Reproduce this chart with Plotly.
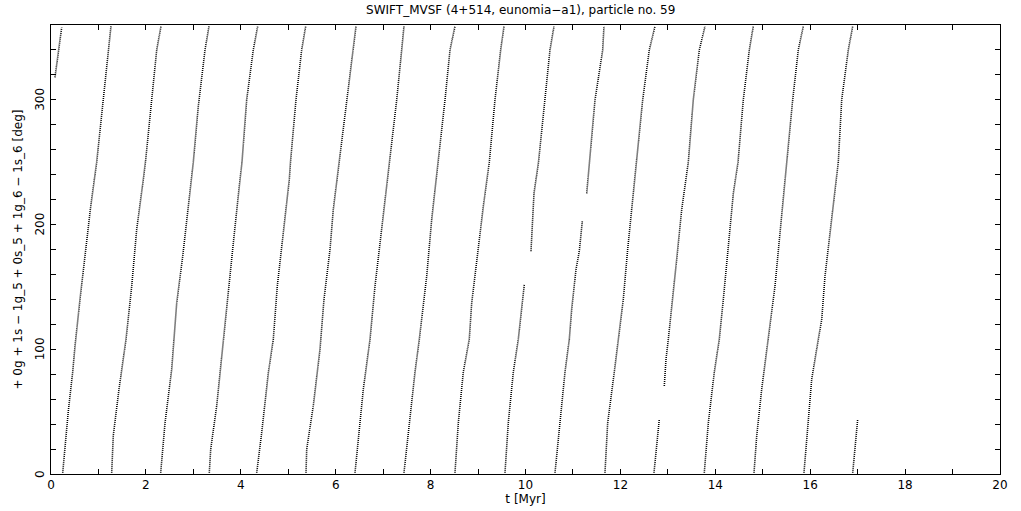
import plotly.graph_objects as go

# Resonant angle samples, one list per circulation (None = gap in data)
stripe_t = [
    [0.084, 0.148, 0.225],
    [0.247, 0.365, 0.457, 0.506, 0.611, 0.717, 0.837, 0.963, 1.102, 1.208, 1.264],
    [1.279, 1.313, 1.433, 1.581, 1.701, 1.806, 1.945, 1.996, 2.122, 2.228, 2.318],
    [2.312, 2.403, 2.544, 2.592, 2.649, 2.776, 2.894, 2.999, 3.104, 3.246, 3.330],
    [3.336, 3.366, 3.492, 3.631, 3.724, 3.842, 3.968, 4.025, 4.124, 4.263, 4.356],
    [4.335, 4.440, 4.580, 4.685, 4.769, 4.910, 5.022, 5.047, 5.163, 5.283, 5.368],
    [5.374, 5.389, 5.528, 5.669, 5.753, 5.880, 5.949, 6.076, 6.232, 6.358, 6.428],
    [6.407, 6.476, 6.582, 6.723, 6.828, 6.934, 7.060, 7.144, 7.286, 7.391, 7.439],
    [7.439, 7.551, 7.671, 7.762, 7.918, 8.023, 8.129, 8.162, 8.304, 8.409, 8.514],
    [8.514, 8.584, 8.689, 8.815, 8.866, 8.971, 9.111, 9.237, 9.357, 9.477, 9.547],
    [9.568, 9.637, 9.743, 9.848, 9.975, None, 10.116, 10.179, 10.274, 10.411, 10.516, 10.601],
    [10.622, 10.727, 10.832, 10.923, 10.973, 11.064, 11.134, 11.197, None, 11.290, 11.345, 11.465, 11.627, 11.654],
    [11.675, 11.732, 11.871, 11.955, 12.061, 12.153, 12.238, 12.328, 12.470, 12.609, 12.729],
    [12.708, 12.820, None, 12.925, 12.961, 13.010, 13.102, 13.186, 13.292, 13.431, 13.536, 13.663, 13.783],
    [13.768, 13.853, 13.979, 14.084, 14.169, 14.274, 14.380, 14.479, 14.590, 14.717, 14.801],
    [14.816, 14.873, 14.978, 15.117, 15.258, 15.343, 15.448, 15.511, 15.631, 15.749, 15.855],
    [15.869, 15.939, 16.032, 16.171, 16.243, 16.312, 16.418, 16.523, 16.592, 16.664, 16.803, 16.896],
    [16.896, 16.959, 17.001],
]
stripe_deg = [
    [318, 335, 358],
    [1, 50.6, 81.6, 102.6, 140, 174.6, 214.6, 250, 300, 340, 359],
    [1, 31, 68, 108, 150.6, 196, 236, 252, 300, 340, 359],
    [1, 41, 84, 108, 137, 174.6, 212, 250, 294.7, 340, 359],
    [1, 20, 54.6, 108, 140, 185, 230.6, 250, 300, 340, 359],
    [1, 33, 81, 108, 150.6, 196, 236, 250, 300, 340, 359],
    [1, 20, 54.6, 100, 140, 180, 212, 252, 300, 340, 359],
    [1, 28, 68, 108, 150.6, 185, 225, 252, 300, 340, 359],
    [1, 41, 81.6, 108, 158.6, 204, 238.6, 250, 300, 340, 359],
    [1, 41, 81.6, 108, 137, 172, 214.6, 250, 300, 340, 359],
    [1, 41, 81.6, 108, 152, None, 178.6, 225, 250, 300, 340, 359],
    [1, 41, 81.6, 108, 132, 164, 178.6, 202.6, None, 225, 250, 300, 340, 359],
    [1, 41, 81.6, 108, 140, 180, 212, 250, 300, 340, 359],
    [1, 44, None, 70.6, 92, 108, 140, 172, 212, 250, 300, 340, 359],
    [1, 41, 81.6, 108, 140, 180, 225, 250, 300, 340, 359],
    [1, 30.7, 68, 108, 150.6, 185, 228, 250, 300, 340, 359],
    [1, 36, 76, 108, 124, 158.6, 193, 225, 250, 300, 340, 359],
    [1, 28, 44],
]

x_ticks = list(range(0, 21))
x_ticklabels = [str(v) if v % 2 == 0 else "" for v in x_ticks]
y_ticks = list(range(0, 361, 20))
y_label_vals = [0, 100, 200, 300]

title_text = "SWIFT_MVSF (4+514, eunomia\u2212a1), particle no. 59"
xlabel = "t [Myr]"
ylabel = "+ 0g + 1s \u2212 1g_5 + 0s_5 + 1g_6 \u2212 1s_6 [deg]"

xs, ys = [], []
for tt, dd in zip(stripe_t, stripe_deg):
    xs += tt + [None]
    ys += dd + [None]

FONT = "DejaVu Sans"
TXT = dict(family=FONT, size=12, color="black")
fig = go.Figure()
fig.add_trace(go.Scatter(
    x=xs, y=ys, mode="lines", connectgaps=False,
    line=dict(color="black", width=1.6, dash="1px,1px"),
    hoverinfo="skip", showlegend=False,
))

axis_common = dict(
    showgrid=False, zeroline=False, showline=True, linecolor="black", linewidth=1,
    mirror="ticks", ticks="inside", ticklen=5, tickcolor="black", tickwidth=1,
    tickfont=TXT, automargin=False,
)
fig.update_layout(
    width=1021, height=511,
    margin=dict(l=51, r=21, t=25, b=37),
    paper_bgcolor="white", plot_bgcolor="white",
    title=dict(text=title_text, x=0.51, xref="container", xanchor="center", y=0.99, yref="container",
               yanchor="top", font=TXT),
    xaxis=dict(range=[0, 20], tickmode="array", tickvals=x_ticks, ticktext=x_ticklabels,
               title=dict(text=xlabel, font=TXT, standoff=0),
               **axis_common),
    yaxis=dict(range=[0, 360], tickmode="array", tickvals=y_ticks, showticklabels=False,
               **axis_common),
)
for v in y_label_vals:
    fig.add_annotation(x=0, xref="paper", y=v, yref="y", text=str(v), textangle=-90,
                       showarrow=False, xanchor="center", yanchor="middle", xshift=-11,
                       font=TXT)
fig.add_annotation(x=0, xref="paper", y=0.5, yref="paper", text=ylabel, textangle=-90,
                   showarrow=False, xanchor="center", yanchor="middle", xshift=-34, font=TXT)
fig.write_html("out.html", post_script="document.body.style.margin='0';",
               config={"displayModeBar": False})
